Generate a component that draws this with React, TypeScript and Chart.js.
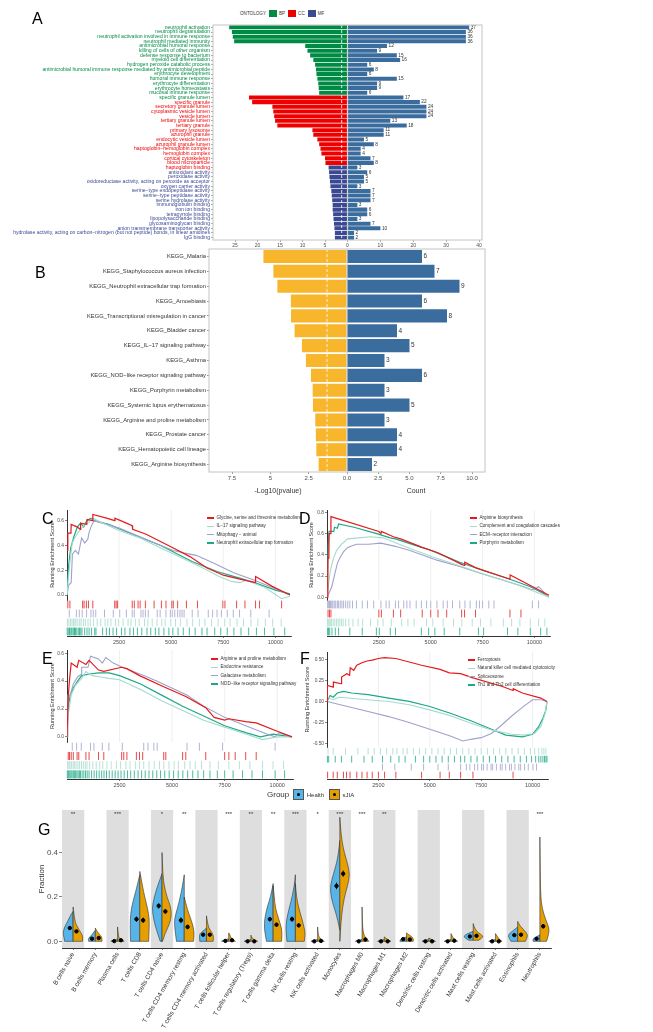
import React, { useEffect, useRef } from "react";
import { Chart, registerables } from "chart.js";
Chart.register(...registerables);

const FONT = "'Liberation Sans', Arial, Helvetica, sans-serif";
Chart.defaults.font.family = FONT;

// ---------------- Panel A (GO) ----------------
const goTerms = [
  "neutrophil activation",
  "neutrophil degranulation",
  "neutrophil activation involved in immune response",
  "neutrophil mediated immunity",
  "antimicrobial humoral response",
  "killing of cells of other organism",
  "defense response to bacterium",
  "myeloid cell differentiation",
  "hydrogen peroxide catabolic process",
  "antimicrobial humoral immune response mediated by antimicrobial peptide",
  "erythrocyte development",
  "humoral immune response",
  "erythrocyte differentiation",
  "erythrocyte homeostasis",
  "mucosal immune response",
  "specific granule lumen",
  "specific granule",
  "secretory granule lumen",
  "cytoplasmic vesicle lumen",
  "vesicle lumen",
  "tertiary granule lumen",
  "tertiary granule",
  "primary lysosome",
  "azurophil granule",
  "endocytic vesicle lumen",
  "azurophil granule lumen",
  "haptoglobin\u2212hemoglobin complex",
  "hemoglobin complex",
  "cortical cytoskeleton",
  "blood microparticle",
  "haptoglobin binding",
  "antioxidant activity",
  "peroxidase activity",
  "oxidoreductase activity, acting on peroxide as acceptor",
  "oxygen carrier activity",
  "serine\u2212type endopeptidase activity",
  "serine\u2212type peptidase activity",
  "serine hydrolase activity",
  "immunoglobulin binding",
  "iron ion binding",
  "tetrapyrrole binding",
  "lipopolysaccharide binding",
  "glycosaminoglycan binding",
  "anion transmembrane transporter activity",
  "hydrolase activity, acting on carbon\u2212nitrogen (but not peptide) bonds, in linear amidines",
  "IgG binding",
];
const goBarOntology = [
  "BP","BP","BP","BP","BP","BP","BP","BP","BP","BP","BP","BP","BP","BP","BP",
  "CC","CC","CC","CC","CC","CC","CC","CC","CC","CC","CC","CC","CC","CC","CC",
  "MF","MF","MF","MF","MF","MF","MF","MF","MF","MF","MF","MF","MF","MF","MF","MF",
];
const goTextOntology = [
  "BP","BP","BP","BP","BP","BP","BP","BP","BP","BP","BP","BP","BP","BP","BP","BP",
  "CC","CC","CC","CC","CC","CC","CC","CC","CC","CC","CC","CC","CC","CC","CC",
  "MF","MF","MF","MF","MF","MF","MF","MF","MF","MF","MF","MF","MF","MF","MF",
];
const goLogP = [
  26.3, 25.7, 25.5, 25.2, 9.4, 8.9, 8.3, 7.6, 7.2, 7.0, 6.9, 6.7, 6.5, 6.4, 6.3,
  21.9, 21.2, 16.7, 16.5, 16.3, 16.1, 15.6, 7.8, 7.6, 6.7, 6.3, 6.0, 5.8, 5.0, 4.9,
  4.2, 4.1, 4.0, 3.9, 3.8, 3.6, 3.5, 3.4, 3.3, 3.3, 3.2, 3.1, 3.0, 2.9, 2.8, 2.8,
];
const goCount = [
  37, 36, 36, 36, 12, 9, 15, 16, 6, 8, 6, 15, 9, 9, 6,
  17, 22, 24, 24, 24, 13, 18, 11, 11, 5, 8, 4, 4, 7, 8,
  3, 6, 5, 5, 3, 7, 7, 7, 3, 6, 6, 3, 7, 10, 2, 2,
];
const goLeftTicks = [0, 5, 10, 15, 20, 25];
const goRightTicks = [10, 20, 30, 40];
const ontologyNames = ["BP", "CC", "MF"];
const ontologyColor: Record<string, string> = { BP: "#008B45", CC: "#EE0000", MF: "#3B4992" };
const countBlue = "#3A6C9E";

// ---------------- Panel B (KEGG) ----------------
const keggTerms = [
  "KEGG_Malaria",
  "KEGG_Staphylococcus aureus infection",
  "KEGG_Neutrophil extracellular trap formation",
  "KEGG_Amoebiasis",
  "KEGG_Transcriptional misregulation in cancer",
  "KEGG_Bladder cancer",
  "KEGG_IL\u221217 signaling pathway",
  "KEGG_Asthma",
  "KEGG_NOD\u2212like receptor signaling pathway",
  "KEGG_Porphyrin metabolism",
  "KEGG_Systemic lupus erythematosus",
  "KEGG_Arginine and proline metabolism",
  "KEGG_Prostate cancer",
  "KEGG_Hematopoietic cell lineage",
  "KEGG_Arginine biosynthesis",
];
const keggLogP = [5.45, 4.8, 4.54, 3.66, 3.65, 3.42, 2.94, 2.68, 2.35, 2.24, 2.22, 2.07, 2.03, 2.0, 1.85];
const keggCount = [6, 7, 9, 6, 8, 4, 5, 3, 6, 3, 5, 3, 4, 4, 2];
const keggLeftTicks = [0, 2.5, 5, 7.5];
const keggLeftTickLabels = ["0.0", "2.5", "5", "7.5"];
const keggRightTicks = [2.5, 5, 7.5, 10];
const keggRightTickLabels = ["2.5", "5.0", "7.5", "10.0"];
const keggYellow = "#F8B62D";
const pCutoff = 1.3;

// ---------------- Panels C-F (GSEA) ----------------
const gseaXTicks = [2500, 5000, 7500, 10000];
const RED = "#E41A1C", LIGHT = "#A5DBCC", LAV = "#9EA2CB", GREEN = "#1DA887";

const cNames = ["Glycine, serine and threonine metabolism", "IL\u221217 signaling pathway", "Mitophagy \u2212 animal", "Neutrophil extracellular trap formation"];
const cGlycine = [[0,0.36],[40,0.36],[40,0.5],[190,0.5],[200,0.57],[480,0.55],[640,0.53],[650,0.58],[950,0.57],[960,0.61],[1230,0.6],[1240,0.65],[1900,0.62],[2290,0.6],[2300,0.62],[2850,0.58],[3130,0.56],[3150,0.53],[3800,0.49],[5100,0.38],[5900,0.31],[6700,0.22],[7500,0.16],[8250,0.13],[9040,0.1],[9050,0.15],[9850,0.07],[10700,0.0]];
const cIL17 = [[0,0.0],[60,0.12],[150,0.28],[250,0.42],[400,0.47],[600,0.52],[800,0.56],[1000,0.58],[1250,0.62],[1600,0.59],[2500,0.52],[3500,0.46],[4500,0.38],[5500,0.3],[6500,0.22],[7300,0.15],[7900,0.11],[8300,0.1],[8600,0.12],[9500,0.06],[10300,-0.03],[10700,-0.01]];
const cMitophagy = [[0,0.0],[80,0.08],[200,0.1],[260,0.33],[400,0.36],[550,0.33],[700,0.46],[850,0.42],[1000,0.45],[1050,0.5],[1150,0.55],[1300,0.6],[1700,0.58],[2500,0.54],[3500,0.47],[4500,0.4],[5100,0.36],[5600,0.34],[6200,0.32],[7000,0.26],[8000,0.18],[9000,0.12],[10000,0.05],[10700,0.0]];
const cNET = [[0,0.05],[80,0.24],[180,0.38],[330,0.47],[500,0.55],[650,0.58],[800,0.55],[950,0.6],[1150,0.62],[1300,0.6],[2000,0.57],[3000,0.5],[4500,0.4],[6000,0.27],[7200,0.19],[8200,0.14],[9000,0.1],[10000,0.04],[10700,0.01]];
const cRugRed = [40, 140, 750, 820, 930, 1030, 1240, 2290, 2360, 2430, 3130, 3230, 3410, 3510, 3760, 4180, 4530, 4750, 5030, 5100, 5310, 5730, 6260, 7480, 7580, 8140, 8540, 9050, 9240, 10300];
const cRugLav = [110, 450, 590, 730, 940, 1150, 1260, 1380, 1800, 2220, 2530, 2850, 3130, 3230, 3550, 3650, 3760, 3900, 4330, 4470, 4750, 4960, 5050, 5170, 5310, 5420, 5520, 5620, 6010, 6290, 6780, 6990, 7200, 7410, 7690, 7980, 8280, 8820, 9700];
const cRugLight = [20, 90, 170, 240, 310, 380, 430, 520, 610, 680, 790, 880, 1010, 1120, 1270, 1450, 1620, 1830, 1960, 2110, 2330, 2480, 2690, 2930, 3070, 3280, 3460, 3720, 3880, 4090, 4320, 4550, 4710, 4980, 5210, 5440, 5760, 6030, 6350, 6620, 6940, 7250, 7570, 7830, 8160, 8470, 8830, 9160, 9520, 9870, 10280];
const cRugGreen = [10, 60, 120, 150, 210, 280, 330, 360, 410, 470, 540, 600, 660, 720, 850, 960, 1060, 1180, 1330, 1390, 1710, 1890, 2040, 2210, 2380, 2620, 2780, 3020, 3190, 3380, 3590, 3840, 4020, 4240, 4410, 4650, 4890, 5080, 5330, 5580, 5870, 6150, 6480, 6720, 7090, 7380, 7690, 8010, 8350, 8720, 9090, 9480, 9930, 10450];

const dNames = ["Arginine biosynthesis", "Complement and coagulation cascades", "ECM\u2212receptor interaction", "Porphyrin metabolism"];
const dArginineBio = [[0,0.0],[40,0.0],[40,0.37],[90,0.37],[100,0.6],[170,0.6],[190,0.76],[2500,0.62],[2600,0.6],[2620,0.62],[3200,0.57],[3550,0.55],[4590,0.47],[5350,0.42],[6490,0.31],[6630,0.3],[6640,0.33],[7160,0.28],[8820,0.17],[8830,0.21],[10700,0.02]];
const dComplement = [[0,0.0],[60,0.1],[160,0.25],[300,0.36],[460,0.44],[700,0.5],[1000,0.55],[1500,0.56],[2100,0.57],[2700,0.56],[3600,0.49],[5100,0.38],[6500,0.29],[7400,0.23],[8500,0.16],[9300,0.11],[10200,0.04],[10700,0.0]];
const dECM = [[0,0.0],[120,0.05],[230,0.1],[350,0.2],[500,0.32],[640,0.38],[800,0.43],[1000,0.47],[1420,0.5],[2000,0.5],[2600,0.51],[3300,0.48],[4000,0.44],[5300,0.35],[6400,0.29],[7500,0.22],[8500,0.16],[9500,0.1],[9900,0.07],[10200,0.1],[10700,0.0]];
const dPorphyrin = [[0,0.0],[30,0.0],[60,0.5],[100,0.62],[330,0.62],[360,0.66],[500,0.65],[560,0.69],[1300,0.66],[2400,0.6],[3050,0.56],[3300,0.55],[4550,0.47],[4900,0.45],[5650,0.39],[6400,0.33],[7550,0.25],[8700,0.18],[9800,0.1],[10600,0.02]];
const dRugLav = [30, 80, 120, 170, 230, 280, 350, 420, 500, 560, 640, 720, 800, 900, 1000, 1100, 1230, 1420, 1700, 1950, 2250, 2600, 2850, 3000, 3300, 3450, 3700, 3850, 4000, 4300, 4550, 4800, 5000, 5300, 5600, 5800, 6050, 6400, 6650, 6900, 7200, 7350, 7500, 7800, 8050, 9900, 10200];
const dRugRed = [50, 120, 190, 2500, 2620, 3200, 3550, 4590, 5000, 5350, 5770, 6490, 6630, 7160, 8820, 9350];
const dRugLight = [20, 60, 110, 160, 220, 300, 380, 460, 540, 620, 700, 780, 900, 1050, 1250, 1500, 1720, 2100, 2450, 2700, 3100, 3600, 3900, 4200, 4800, 5100, 5600, 6100, 6500, 7000, 7400, 7900, 8500, 8900, 9300, 9800, 10200, 10500];
const dRugGreen = [30, 70, 130, 240, 400, 560, 1100, 1700, 2380, 2520, 3050, 3300, 4550, 4900, 5200, 5650, 6400, 7300, 7550, 8700, 9200, 9800, 10300, 10600];

const eNames = ["Arginine and proline metabolism", "Endocrine resistance", "Galactose metabolism", "NOD\u2212like receptor signaling pathway"];
const eArgPro = [[0,0.0],[60,0.29],[120,0.41],[200,0.53],[480,0.5],[560,0.55],[900,0.52],[1050,0.55],[1500,0.48],[1750,0.47],[2600,0.5],[2850,0.49],[3450,0.44],[4600,0.36],[5650,0.29],[6600,0.21],[7000,0.14],[7500,0.12],[7700,0.13],[8500,0.11],[9000,0.1],[10000,0.04],[10700,0.0]];
const eEndocrine = [[0,0.0],[50,0.15],[200,0.3],[400,0.37],[700,0.42],[900,0.47],[1200,0.44],[1600,0.43],[2000,0.42],[2500,0.41],[3500,0.34],[4500,0.26],[5500,0.19],[6500,0.12],[7500,0.07],[8500,0.02],[9300,-0.02],[10000,0.0],[10700,0.0]];
const eGalactose = [[0,0.0],[40,0.3],[150,0.3],[300,0.38],[500,0.43],[680,0.45],[700,0.5],[1000,0.5],[1120,0.58],[1500,0.56],[1680,0.53],[1850,0.57],[2200,0.53],[2630,0.5],[3650,0.44],[4290,0.4],[5700,0.3],[6500,0.22],[7500,0.14],[8500,0.08],[9500,0.02],[9900,0.0],[10100,0.03],[10700,0.0]];
const eNOD = [[0,0.0],[50,0.2],[150,0.3],[300,0.35],[500,0.4],[700,0.44],[1000,0.45],[1500,0.46],[2000,0.46],[2500,0.44],[3500,0.38],[4500,0.3],[5500,0.22],[6500,0.15],[7500,0.08],[8500,0.03],[9200,0.0],[9800,0.02],[10700,0.0]];
const eRugLav = [250, 460, 680, 1120, 1280, 1680, 1990, 2630, 3650, 3850, 4130, 4290, 5710, 6300, 7400, 9900];
const eRugRed = [60, 120, 200, 300, 480, 560, 900, 1050, 1500, 1750, 2600, 2700, 2850, 3300, 3450, 3600, 4600, 4700, 5500, 5650, 6600, 7500, 7700, 8000, 8500, 9000];
const eRugLight = [30, 90, 140, 210, 290, 350, 430, 520, 600, 690, 780, 870, 950, 1080, 1230, 1390, 1560, 1700, 1900, 2100, 2350, 2550, 2800, 3000, 3250, 3450, 3650, 3900, 4150, 4400, 4600, 4850, 5100, 5300, 5600, 5850, 6100, 6400, 6800, 7200, 7700, 8200, 8700, 9300, 9800, 10300];
const eRugGreen = [15, 55, 95, 140, 190, 240, 300, 350, 410, 470, 530, 590, 640, 720, 800, 880, 960, 1050, 1170, 1290, 1410, 1530, 1650, 1760, 1880, 2010, 2150, 2290, 2430, 2570, 2720, 2880, 3030, 3200, 3380, 3550, 3720, 3900, 4080, 4270, 4450, 4650, 4860, 5070, 5290, 5510, 5740, 5980, 6230, 6500, 6800, 7150, 7500, 7900, 8350, 8800, 9300, 9900, 10350];

const fNames = ["Ferroptosis", "Natural killer cell mediated cytotoxicity", "Spliceosome", "Th1 and Th2 cell differentiation"];
const fFerroptosis = [[0,0.0],[20,0.19],[300,0.17],[310,0.23],[700,0.21],[710,0.29],[960,0.33],[1100,0.31],[1130,0.4],[1300,0.37],[1450,0.43],[1700,0.46],[1950,0.48],[2200,0.49],[2500,0.51],[2800,0.52],[3350,0.51],[4600,0.43],[5500,0.38],[5950,0.34],[6500,0.33],[7100,0.28],[8500,0.18],[9050,0.13],[9060,0.15],[9500,0.1],[10400,0.04],[10700,0.0]];
const fNKcyto = [[0,0.05],[300,0.02],[600,0.05],[1000,0.04],[2000,0.02],[3000,0.0],[4000,-0.04],[5000,-0.1],[6000,-0.17],[7000,-0.26],[8000,-0.34],[9000,-0.39],[9600,-0.4],[10100,-0.38],[10400,-0.3],[10600,-0.15],[10700,0.0]];
const fSpliceosome = [[0,0.0],[1000,-0.06],[2000,-0.12],[3000,-0.18],[4000,-0.25],[5000,-0.33],[6000,-0.41],[6600,-0.47],[7000,-0.45],[7500,-0.43],[8000,-0.38],[8500,-0.28],[9000,-0.17],[9500,-0.07],[10000,0.02],[10400,0.02],[10700,0.0]];
const fTh1Th2 = [[0,0.0],[150,0.07],[300,0.05],[500,0.1],[800,0.12],[1200,0.1],[2000,0.08],[3000,0.04],[4000,0.0],[5000,-0.06],[6000,-0.14],[7000,-0.23],[8000,-0.33],[8700,-0.4],[9500,-0.42],[10000,-0.39],[10300,-0.3],[10500,-0.2],[10650,-0.1],[10700,0.0]];
const fRugLight = [50, 300, 900, 1500, 2000, 2300, 2600, 2900, 3200, 3400, 3700, 3900, 4200, 4500, 4800, 5100, 5400, 5700, 6000, 6300, 6600, 6900, 7200, 7500, 7800, 8100, 8400, 8700, 9000, 9300, 9600, 9900, 10100, 10300, 10450, 10550, 10650];
const fRugGreen = [20, 80, 400, 700, 1200, 1800, 2200, 2700, 3100, 3500, 3800, 4300, 4700, 5000, 5300, 5600, 5900, 6200, 6500, 6700, 7000, 7300, 7600, 7900, 8200, 8500, 8800, 9100, 9400, 9700, 9950, 10150, 10300, 10400, 10500, 10580, 10650, 10700];
const fRugLav = [2700, 3300, 4100, 4700, 5400, 5900, 6500, 6780, 6950, 7180, 7330, 7520, 7610, 7790, 7980, 8060, 8240, 8430, 8520, 8690, 8880, 8970, 9140, 9330, 9420, 9610, 9790, 10020, 10190];
const fRugRed = [30, 300, 500, 800, 950, 1120, 1450, 1700, 1950, 2200, 2500, 2800, 3350, 4600, 5500, 5950, 6500, 7100, 9050];

// ---------------- Panel G (immune infiltration) ----------------
const cellTypes = [
  "B cells naive", "B cells memory", "Plasma cells", "T cells CD8", "T cells CD4 naive",
  "T cells CD4 memory resting", "T cells CD4 memory activated", "T cells follicular helper",
  "T cells regulatory (Tregs)", "T cells gamma delta", "NK cells resting", "NK cells activated",
  "Monocytes", "Macrophages M0", "Macrophages M1", "Macrophages M2", "Dendritic cells resting",
  "Dendritic cells activated", "Mast cells resting", "Mast cells activated", "Eosinophils", "Neutrophils",
];
const sigStars = ["**", "", "***", "", "*", "**", "", "***", "**", "**", "***", "*", "***", "***", "**", "", "", "", "", "", "", "***"];
const healthMean = [0.06, 0.012, 0.001, 0.1, 0.16, 0.095, 0.03, 0.002, 0.0, 0.1, 0.1, 0.0, 0.25, 0.0, 0.0, 0.01, 0.0, 0.0, 0.022, 0.0, 0.028, 0.012];
const sjiaMean = [0.045, 0.015, 0.005, 0.095, 0.135, 0.065, 0.03, 0.005, 0.0, 0.075, 0.072, 0.002, 0.305, 0.008, 0.0, 0.008, 0.0, 0.003, 0.025, 0.0, 0.03, 0.068];
const healthErr = [0.008, 0.004, 0.002, 0.012, 0.012, 0.013, 0.004, 0.002, 0.001, 0.01, 0.012, 0.002, 0.015, 0.002, 0.001, 0.002, 0.001, 0.001, 0.004, 0.001, 0.005, 0.004];
const sjiaErr = [0.007, 0.004, 0.003, 0.012, 0.011, 0.01, 0.004, 0.002, 0.001, 0.009, 0.009, 0.002, 0.014, 0.004, 0.001, 0.002, 0.001, 0.002, 0.004, 0.001, 0.005, 0.01];
const healthProfiles = [
  [[0,0.38],[0.02,0.42],[0.04,0.45],[0.06,0.4],[0.08,0.3],[0.1,0.2],[0.12,0.1],[0.135,0]],
  [[0,0.3],[0.01,0.33],[0.02,0.25],[0.03,0.15],[0.04,0.08],[0.05,0]],
  [[0,0.3],[0.003,0.3],[0.008,0.05],[0.012,0]],
  [[0,0.42],[0.05,0.43],[0.1,0.43],[0.15,0.38],[0.2,0.25],[0.25,0.12],[0.3,0]],
  [[0,0.08],[0.05,0.25],[0.1,0.38],[0.15,0.45],[0.2,0.35],[0.25,0.2],[0.305,0]],
  [[0,0.35],[0.05,0.42],[0.1,0.45],[0.15,0.3],[0.2,0.18],[0.25,0.08],[0.3,0]],
  [[0,0.3],[0.02,0.32],[0.035,0.3],[0.05,0.12],[0.06,0]],
  [[0,0.32],[0.004,0.3],[0.01,0.05],[0.012,0]],
  [[0,0.3],[0.004,0.25],[0.008,0]],
  [[0,0.3],[0.04,0.38],[0.08,0.4],[0.12,0.35],[0.16,0.25],[0.2,0.12],[0.26,0]],
  [[0,0.38],[0.04,0.42],[0.08,0.42],[0.12,0.35],[0.16,0.25],[0.2,0.15],[0.25,0.05],[0.3,0]],
  [[0,0.3],[0.004,0.25],[0.008,0]],
  [[0.05,0],[0.1,0.1],[0.15,0.25],[0.2,0.4],[0.25,0.43],[0.3,0.3],[0.35,0.15],[0.4,0.06],[0.455,0]],
  [[0,0.3],[0.004,0.28],[0.008,0]],
  [[0,0.3],[0.004,0.25],[0.008,0]],
  [[0,0.3],[0.01,0.3],[0.02,0]],
  [[0,0.3],[0.004,0.25],[0.008,0]],
  [[0,0.3],[0.004,0.25],[0.008,0]],
  [[0.005,0.2],[0.015,0.38],[0.025,0.42],[0.035,0.25],[0.045,0]],
  [[0,0.3],[0.004,0.25],[0.008,0]],
  [[0,0.3],[0.015,0.4],[0.03,0.42],[0.045,0.25],[0.065,0]],
  [[0,0.3],[0.01,0.35],[0.02,0.15],[0.03,0]],
];
const sjiaProfiles = [
  [[0,0.42],[0.02,0.45],[0.04,0.35],[0.06,0.22],[0.08,0.12],[0.1,0.07],[0.13,0.03],[0.155,0]],
  [[0,0.3],[0.01,0.3],[0.02,0.28],[0.03,0.2],[0.045,0.08],[0.06,0]],
  [[0,0.3],[0.005,0.28],[0.01,0.08],[0.03,0.03],[0.065,0]],
  [[0,0.4],[0.05,0.42],[0.1,0.43],[0.15,0.35],[0.2,0.22],[0.25,0.12],[0.29,0.05],[0.315,0]],
  [[0,0.02],[0.04,0.15],[0.08,0.35],[0.12,0.43],[0.16,0.38],[0.2,0.22],[0.25,0.1],[0.3,0.04],[0.35,0.02],[0.4,0]],
  [[0,0.42],[0.03,0.45],[0.06,0.42],[0.1,0.3],[0.14,0.15],[0.2,0]],
  [[0,0.3],[0.02,0.33],[0.04,0.25],[0.06,0.1],[0.09,0.04],[0.115,0]],
  [[0,0.3],[0.005,0.25],[0.015,0.1],[0.03,0.05],[0.038,0]],
  [[0,0.3],[0.005,0.2],[0.015,0.04],[0.028,0]],
  [[0,0.38],[0.03,0.4],[0.06,0.38],[0.1,0.25],[0.15,0.1],[0.2,0.05],[0.25,0]],
  [[0,0.4],[0.03,0.45],[0.06,0.4],[0.1,0.3],[0.15,0.15],[0.2,0.05],[0.26,0]],
  [[0,0.3],[0.005,0.22],[0.02,0.03],[0.065,0]],
  [[0,0],[0.1,0.05],[0.2,0.2],[0.25,0.35],[0.3,0.45],[0.35,0.35],[0.4,0.2],[0.45,0.1],[0.5,0.04],[0.56,0]],
  [[0,0.3],[0.01,0.25],[0.03,0.03],[0.155,0]],
  [[0,0.3],[0.005,0.2],[0.02,0]],
  [[0,0.3],[0.01,0.32],[0.02,0.25],[0.03,0.1],[0.038,0]],
  [[0,0.3],[0.005,0.2],[0.015,0]],
  [[0,0.3],[0.005,0.15],[0.035,0]],
  [[0.005,0.25],[0.015,0.4],[0.025,0.45],[0.04,0.2],[0.06,0.06],[0.08,0]],
  [[0,0.3],[0.005,0.2],[0.035,0]],
  [[0,0.35],[0.015,0.42],[0.03,0.45],[0.05,0.3],[0.07,0.1],[0.09,0]],
  [[0,0.3],[0.03,0.4],[0.06,0.42],[0.1,0.25],[0.15,0.1],[0.2,0.04],[0.28,0.02],[0.47,0]],
];
const fracTicks = [0, 0.2, 0.4];
const fracTickLabels = ["0.0", "0.2", "0.4"];
const HEALTH = "#56B4E9", SJIA = "#E69F00";

// ---------------- helpers ----------------
function divergingPlugin(counts: number[], cutoff: number, labelSize: number) {
  return {
    id: "diverging",
    afterDatasetsDraw(chart: any) {
      const { ctx, chartArea } = chart;
      const xl = chart.scales.xL;
      ctx.save();
      const cx = xl.getPixelForValue(cutoff);
      ctx.strokeStyle = "#FFFFFF";
      ctx.lineWidth = 0.8;
      ctx.setLineDash([3, 2]);
      ctx.beginPath();
      ctx.moveTo(cx, chartArea.top);
      ctx.lineTo(cx, chartArea.bottom);
      ctx.stroke();
      ctx.setLineDash([]);
      const zx = xl.getPixelForValue(0);
      ctx.strokeStyle = "#D6D6D6";
      ctx.lineWidth = 1.2;
      ctx.beginPath();
      ctx.moveTo(zx, chartArea.top);
      ctx.lineTo(zx, chartArea.bottom);
      ctx.stroke();
      const meta = chart.getDatasetMeta(1);
      ctx.fillStyle = "#333333";
      ctx.font = `${labelSize}px ${FONT}`;
      ctx.textBaseline = "middle";
      ctx.textAlign = "left";
      meta.data.forEach((bar: any, i: number) => ctx.fillText(String(counts[i]), bar.x + 1.5, bar.y));
      ctx.strokeStyle = "#C4C4C4";
      ctx.lineWidth = 1;
      ctx.strokeRect(chartArea.left, chartArea.top, chartArea.width, chartArea.height);
      ctx.restore();
    },
  };
}

function makeGo() {
  const tickGrid = { display: true, drawOnChartArea: false, tickLength: 2, color: "#555", lineWidth: 0.5 };
  return {
    type: "bar",
    data: {
      labels: goTerms,
      datasets: [
        { data: goLogP, xAxisID: "xL", yAxisID: "y", backgroundColor: goBarOntology.map((o) => ontologyColor[o]), borderWidth: 0, barPercentage: 1, categoryPercentage: 0.86, grouped: false },
        { data: goCount, xAxisID: "xR", yAxisID: "y", backgroundColor: countBlue, borderWidth: 0, barPercentage: 1, categoryPercentage: 0.86, grouped: false },
      ],
    },
    options: {
      indexAxis: "y",
      animation: false,
      responsive: false,
      devicePixelRatio: 1,
      layout: { padding: { top: 5, right: 8, left: 0, bottom: 0 } },
      plugins: { legend: { display: false }, tooltip: { enabled: false } },
      scales: {
        y: {
          type: "category",
          position: "left",
          afterFit: (s: any) => { s.width = 213; },
          ticks: { autoSkip: false, font: { size: 5.1 }, color: (c: any) => ontologyColor[goTextOntology[c.index]], padding: 1 },
          grid: { ...tickGrid, offset: false },
          border: { display: false },
        },
        xL: {
          type: "linear", position: "bottom", stack: "go", stackWeight: 1, reverse: true, min: 0, max: 29.9,
          afterBuildTicks: (s: any) => { s.ticks = goLeftTicks.map((v) => ({ value: v })); },
          ticks: { font: { size: 5 }, color: "#4D4D4D", padding: 1, maxRotation: 0, autoSkip: false, callback: (v: any) => String(v) },
          grid: tickGrid, border: { display: false },
          afterFit: (s: any) => { s.height = 15; },
        },
        xR: {
          type: "linear", position: "bottom", stack: "go", stackWeight: 1, min: 0, max: 40.9,
          afterBuildTicks: (s: any) => { s.ticks = goRightTicks.map((v) => ({ value: v })); },
          ticks: { font: { size: 5 }, color: "#4D4D4D", padding: 1, maxRotation: 0, autoSkip: false, callback: (v: any) => String(v) },
          grid: tickGrid, border: { display: false },
          afterFit: (s: any) => { s.height = 15; },
        },
      },
    },
    plugins: [divergingPlugin(goCount, pCutoff, 4.8)],
  };
}

function makeKegg() {
  const tickGrid = { display: true, drawOnChartArea: false, tickLength: 2, color: "#555", lineWidth: 0.6 };
  return {
    type: "bar",
    data: {
      labels: keggTerms,
      datasets: [
        { data: keggLogP, xAxisID: "xL", yAxisID: "y", backgroundColor: keggYellow, borderWidth: 0, barPercentage: 1, categoryPercentage: 0.88, grouped: false },
        { data: keggCount, xAxisID: "xR", yAxisID: "y", backgroundColor: countBlue, borderWidth: 0, barPercentage: 1, categoryPercentage: 0.88, grouped: false },
      ],
    },
    options: {
      indexAxis: "y",
      animation: false,
      responsive: false,
      devicePixelRatio: 1,
      layout: { padding: { top: 9, right: 10, left: 0, bottom: 0 } },
      plugins: { legend: { display: false }, tooltip: { enabled: false } },
      scales: {
        y: {
          type: "category", position: "left",
          afterFit: (s: any) => { s.width = 209; },
          ticks: { autoSkip: false, font: { size: 5.8 }, color: "#333333", padding: 1 },
          grid: { ...tickGrid, offset: false },
          border: { display: false },
        },
        xL: {
          type: "linear", position: "bottom", stack: "kg", stackWeight: 1, reverse: true, min: 0, max: 9.0,
          afterBuildTicks: (s: any) => { s.ticks = keggLeftTicks.map((v) => ({ value: v })); },
          ticks: { font: { size: 6 }, color: "#4D4D4D", padding: 1, maxRotation: 0, autoSkip: false, callback: (_v: any, i: number) => keggLeftTickLabels[i] },
          title: { display: true, text: "-Log10(pvalue)", font: { size: 7 }, color: "#333", padding: { top: 0, bottom: 0 } },
          grid: tickGrid, border: { display: false },
          afterFit: (s: any) => { s.height = 23; },
        },
        xR: {
          type: "linear", position: "bottom", stack: "kg", stackWeight: 1, min: 0, max: 11.04,
          afterBuildTicks: (s: any) => { s.ticks = keggRightTicks.map((v) => ({ value: v })); },
          ticks: { font: { size: 6 }, color: "#4D4D4D", padding: 1, maxRotation: 0, autoSkip: false, callback: (_v: any, i: number) => keggRightTickLabels[i] },
          title: { display: true, text: "Count", font: { size: 7 }, color: "#333", padding: { top: 0, bottom: 0 } },
          grid: tickGrid, border: { display: false },
          afterFit: (s: any) => { s.height = 23; },
        },
      },
    },
    plugins: [divergingPlugin(keggCount, pCutoff, 6.5)],
  };
}

function gseaPlugin(rug: { color: string; hits: number[] }[]) {
  return {
    id: "gseaDecor",
    beforeDatasetsDraw(chart: any) {
      const { ctx } = chart;
      const xs = chart.scales.x, ys = chart.scales.y;
      ctx.save();
      ctx.strokeStyle = "#E8E8E8";
      ctx.lineWidth = 0.7;
      gseaXTicks.forEach((v) => {
        const x = xs.getPixelForValue(v);
        ctx.beginPath();
        ctx.moveTo(x, ys.top);
        ctx.lineTo(x, ys.bottom);
        ctx.stroke();
      });
      ctx.restore();
    },
    afterDatasetsDraw(chart: any) {
      const { ctx } = chart;
      const xs = chart.scales.x, yr = chart.scales.yr;
      ctx.save();
      ctx.lineWidth = 0.8;
      rug.forEach((row, r) => {
        const y0 = yr.getPixelForValue(r) + 0.6, y1 = yr.getPixelForValue(r + 1) - 0.6;
        ctx.strokeStyle = row.color;
        row.hits.forEach((h) => {
          const x = xs.getPixelForValue(h);
          ctx.beginPath();
          ctx.moveTo(x, y0);
          ctx.lineTo(x, y1);
          ctx.stroke();
        });
      });
      ctx.restore();
    },
  };
}

function makeGsea(p: any) {
  return () => ({
    type: "line",
    data: {
      datasets: p.series.map((s: any) => ({
        data: s.pts.map((q: number[]) => ({ x: q[0], y: q[1] })),
        borderColor: s.color, borderWidth: s.w, pointRadius: 0, fill: false, tension: 0, yAxisID: "y",
      })),
    },
    options: {
      animation: false, responsive: false, devicePixelRatio: 1,
      layout: { padding: { top: p.padTop, right: p.padRight, left: 0, bottom: 0 } },
      plugins: { legend: { display: false }, tooltip: { enabled: false } },
      scales: {
        x: {
          type: "linear", min: 0, max: p.xMax,
          afterBuildTicks: (s: any) => { s.ticks = gseaXTicks.map((v) => ({ value: v })); },
          ticks: { font: { size: 5.5 }, color: "#4D4D4D", padding: 1, maxRotation: 0, autoSkip: false, callback: (v: any) => String(v) },
          grid: { display: true, drawOnChartArea: false, tickLength: 2, color: "#333", lineWidth: 0.6 },
          border: { display: true, color: "#333", width: 1 },
          afterFit: (s: any) => { s.height = p.xHeight; },
        },
        y: {
          type: "linear", stack: "g", stackWeight: p.esWeight, weight: 2, min: p.yMin, max: p.yMax,
          afterBuildTicks: (s: any) => { s.ticks = p.yTicks.map((v: number) => ({ value: v })); },
          ticks: { font: { size: 4.8 }, color: "#4D4D4D", padding: 1, callback: (_v: any, i: number) => p.yLabels[i] },
          title: { display: true, text: "Running Enrichment Score", font: { size: 5.5 }, color: "#333", padding: { top: 0, bottom: 1 } },
          grid: { display: true, drawOnChartArea: false, tickLength: 2, color: "#333", lineWidth: 0.6 },
          border: { display: true, color: "#333", width: 1 },
          afterFit: (s: any) => { s.width = p.yWidth; },
        },
        yr: { type: "linear", stack: "g", stackWeight: 1, weight: 1, min: 0, max: 4, reverse: true, display: false },
      },
    },
    plugins: [gseaPlugin(p.rug)],
  });
}

const violinPlugin = {
  id: "violins",
  beforeDatasetsDraw(chart: any) {
    const { ctx, chartArea } = chart;
    const xs = chart.scales.x, ys = chart.scales.y;
    ctx.save();
    ctx.fillStyle = "#DEDEDE";
    cellTypes.forEach((_, i) => {
      if (i % 2 === 0) {
        const x0 = xs.getPixelForValue(i - 0.5), x1 = xs.getPixelForValue(i + 0.5);
        ctx.fillRect(x0, chartArea.top, x1 - x0, chartArea.height);
      }
    });
    const drawHalf = (i: number, prof: number[][], side: number, color: string) => {
      const pts = prof.map(([v, w]) => [xs.getPixelForValue(i + side * w), ys.getPixelForValue(v)]);
      const cx = xs.getPixelForValue(i);
      ctx.beginPath();
      ctx.moveTo(cx, pts[0][1]);
      ctx.lineTo(pts[0][0], pts[0][1]);
      for (let k = 1; k < pts.length - 1; k++) {
        const mx = (pts[k][0] + pts[k + 1][0]) / 2, my = (pts[k][1] + pts[k + 1][1]) / 2;
        ctx.quadraticCurveTo(pts[k][0], pts[k][1], mx, my);
      }
      const last = pts[pts.length - 1];
      ctx.lineTo(last[0], last[1]);
      ctx.lineTo(cx, last[1]);
      ctx.closePath();
      ctx.fillStyle = color;
      ctx.fill();
      ctx.strokeStyle = "#333";
      ctx.lineWidth = 0.6;
      ctx.stroke();
    };
    cellTypes.forEach((_, i) => {
      drawHalf(i, healthProfiles[i], -1, HEALTH);
      drawHalf(i, sjiaProfiles[i], 1, SJIA);
    });
    ctx.strokeStyle = "#000";
    ctx.lineWidth = 0.9;
    cellTypes.forEach((_, i) => {
      [[i - 0.15, healthMean[i], healthErr[i]], [i + 0.15, sjiaMean[i], sjiaErr[i]]].forEach(([x, m, e]) => {
        const px = xs.getPixelForValue(x);
        ctx.beginPath();
        ctx.moveTo(px, ys.getPixelForValue(m - e));
        ctx.lineTo(px, ys.getPixelForValue(m + e));
        ctx.stroke();
      });
    });
    ctx.restore();
  },
  afterDatasetsDraw(chart: any) {
    const { ctx, chartArea } = chart;
    const xs = chart.scales.x;
    ctx.save();
    ctx.fillStyle = "#333";
    ctx.font = `6px ${FONT}`;
    ctx.textAlign = "center";
    ctx.textBaseline = "top";
    sigStars.forEach((s, i) => {
      if (s) ctx.fillText(s, xs.getPixelForValue(i), chartArea.top + 1);
    });
    ctx.restore();
  },
};

function makeViolin() {
  return {
    type: "scatter",
    data: {
      datasets: [
        { data: healthMean.map((m, i) => ({ x: i - 0.15, y: m })), backgroundColor: "#000", borderColor: "#000", pointRadius: 1.7 },
        { data: sjiaMean.map((m, i) => ({ x: i + 0.15, y: m })), backgroundColor: "#000", borderColor: "#000", pointRadius: 1.7 },
      ],
    },
    options: {
      animation: false, responsive: false, devicePixelRatio: 1,
      layout: { padding: { top: 10, right: 14, left: 0, bottom: 0 } },
      plugins: { legend: { display: false }, tooltip: { enabled: false } },
      scales: {
        x: {
          type: "linear", min: -0.5, max: 21.5,
          afterBuildTicks: (s: any) => { s.ticks = cellTypes.map((_, i) => ({ value: i })); },
          ticks: { autoSkip: false, minRotation: 60, maxRotation: 60, font: { size: 6.5 }, color: "#333", padding: 1, callback: (v: any) => cellTypes[v] },
          grid: { display: true, drawOnChartArea: false, tickLength: 2, color: "#333", lineWidth: 0.6 },
          border: { display: true, color: "#333", width: 1 },
          afterFit: (s: any) => { s.height = 84; },
        },
        y: {
          min: -0.03, max: 0.592,
          afterBuildTicks: (s: any) => { s.ticks = fracTicks.map((v) => ({ value: v })); },
          ticks: { font: { size: 8 }, color: "#4D4D4D", padding: 1, callback: (_v: any, i: number) => fracTickLabels[i] },
          title: { display: true, text: "Fraction", font: { size: 8 }, color: "#333", padding: { top: 0, bottom: 1 } },
          grid: { display: true, drawOnChartArea: false, tickLength: 3, color: "#333", lineWidth: 0.6 },
          border: { display: true, color: "#333", width: 1 },
          afterFit: (s: any) => { s.width = 25; },
        },
      },
    },
    plugins: [violinPlugin],
  };
}

// ---------------- components ----------------
function ChartBox({ left, top, width, height, make }: any) {
  const ref = useRef<HTMLCanvasElement>(null);
  useEffect(() => {
    const chart = new Chart(ref.current as HTMLCanvasElement, make());
    return () => chart.destroy();
  }, []);
  return <canvas ref={ref} width={width} height={height} style={{ position: "absolute", left, top, width, height }} />;
}

function SeriesLegend({ left, top, names, colors }: any) {
  return (
    <div style={{ position: "absolute", left, top }}>
      {names.map((n: string, i: number) => (
        <div key={i} style={{ position: "absolute", left: 0, top: i * 8.4, height: 6, display: "flex", alignItems: "center", whiteSpace: "nowrap" }}>
          <div style={{ width: 7, height: 1.4, background: colors[i], marginRight: 2.5 }} />
          <span style={{ fontSize: 4.6, color: "#333", lineHeight: "6px" }}>{n}</span>
        </div>
      ))}
    </div>
  );
}

function Letter({ ch, left, top }: any) {
  return <div style={{ position: "absolute", left, top, fontSize: 16, lineHeight: 1, color: "#000" }}>{ch}</div>;
}

const LEG_COLORS = [RED, LIGHT, LAV, GREEN];

export default function App() {
  const gC = makeGsea({
    series: [{ pts: cGlycine, color: RED, w: 1.2 }, { pts: cIL17, color: LIGHT, w: 1.1 }, { pts: cMitophagy, color: LAV, w: 1.1 }, { pts: cNET, color: GREEN, w: 1.2 }],
    rug: [{ color: RED, hits: cRugRed }, { color: LAV, hits: cRugLav }, { color: LIGHT, hits: cRugLight }, { color: GREEN, hits: cRugGreen }],
    yMin: -0.04, yMax: 0.686, yTicks: [0, 0.2, 0.4, 0.6], yLabels: ["0.0", "0.2", "0.4", "0.6"],
    xMax: 10750, padTop: 10, padRight: 9, xHeight: 14, yWidth: 18, esWeight: 2.5,
  });
  const gD = makeGsea({
    series: [{ pts: dArginineBio, color: RED, w: 1.2 }, { pts: dComplement, color: LIGHT, w: 1.1 }, { pts: dECM, color: LAV, w: 1.1 }, { pts: dPorphyrin, color: GREEN, w: 1.2 }],
    rug: [{ color: LAV, hits: dRugLav }, { color: RED, hits: dRugRed }, { color: LIGHT, hits: dRugLight }, { color: GREEN, hits: dRugGreen }],
    yMin: -0.025, yMax: 0.822, yTicks: [0, 0.2, 0.4, 0.6, 0.8], yLabels: ["0.0", "0.2", "0.4", "0.6", "0.8"],
    xMax: 10750, padTop: 10, padRight: 10, xHeight: 14, yWidth: 19, esWeight: 2.5,
  });
  const gE = makeGsea({
    series: [{ pts: eArgPro, color: RED, w: 1.2 }, { pts: eEndocrine, color: LIGHT, w: 1.1 }, { pts: eGalactose, color: LAV, w: 1.1 }, { pts: eNOD, color: GREEN, w: 1.2 }],
    rug: [{ color: LAV, hits: eRugLav }, { color: RED, hits: eRugRed }, { color: LIGHT, hits: eRugLight }, { color: GREEN, hits: eRugGreen }],
    yMin: -0.038, yMax: 0.624, yTicks: [0, 0.2, 0.4, 0.6], yLabels: ["0.0", "0.2", "0.4", "0.6"],
    xMax: 10750, padTop: 10, padRight: 7, xHeight: 15, yWidth: 18, esWeight: 2.5,
  });
  const gF = makeGsea({
    series: [{ pts: fFerroptosis, color: RED, w: 1.2 }, { pts: fNKcyto, color: LIGHT, w: 1.1 }, { pts: fSpliceosome, color: LAV, w: 1.1 }, { pts: fTh1Th2, color: GREEN, w: 1.2 }],
    rug: [{ color: LIGHT, hits: fRugLight }, { color: GREEN, hits: fRugGreen }, { color: LAV, hits: fRugLav }, { color: RED, hits: fRugRed }],
    yMin: -0.544, yMax: 0.587, yTicks: [-0.5, -0.25, 0, 0.25, 0.5], yLabels: ["-0.50", "-0.25", "0.00", "0.25", "0.50"],
    xMax: 10750, padTop: 12, padRight: 12, xHeight: 15, yWidth: 23, esWeight: 3,
  });

  return (
    <div style={{ position: "absolute", left: 0, top: 0, width: 653, height: 1032, background: "#fff", fontFamily: FONT, overflow: "hidden" }}>
      <ChartBox left={0} top={20} width={490} height={235} make={makeGo} />
      <ChartBox left={0} top={240} width={495} height={255} make={makeKegg} />
      <ChartBox left={49} top={500} width={251} height={150} make={gC} />
      <ChartBox left={308} top={500} width={252} height={150} make={gD} />
      <ChartBox left={49} top={640} width={251} height={154} make={gE} />
      <ChartBox left={304} top={640} width={256} height={154} make={gF} />
      <ChartBox left={37} top={800} width={528} height={232} make={makeViolin} />

      {/* ontology legend */}
      <div style={{ position: "absolute", left: 240, top: 9, height: 8, display: "flex", alignItems: "center", fontSize: 4.6, color: "#333", whiteSpace: "nowrap" }}>
        <span style={{ marginRight: 3 }}>ONTOLOGY</span>
        {ontologyNames.map((o) => (
          <React.Fragment key={o}>
            <span style={{ display: "inline-block", width: 8, height: 7, background: ontologyColor[o], marginRight: 2 }} />
            <span style={{ marginRight: 3 }}>{o}</span>
          </React.Fragment>
        ))}
      </div>

      <SeriesLegend left={207} top={515} names={cNames} colors={LEG_COLORS} />
      <SeriesLegend left={470} top={515} names={dNames} colors={LEG_COLORS} />
      <SeriesLegend left={211} top={656} names={eNames} colors={LEG_COLORS} />
      <SeriesLegend left={468} top={657} names={fNames} colors={LEG_COLORS} />

      {/* group legend */}
      <div style={{ position: "absolute", left: 267, top: 789, height: 11, display: "flex", alignItems: "center", whiteSpace: "nowrap", color: "#333" }}>
        <span style={{ fontSize: 8, marginRight: 4 }}>Group</span>
        {[["Health", HEALTH], ["sJIA", SJIA]].map(([n, c]) => (
          <React.Fragment key={n}>
            <span style={{ position: "relative", display: "inline-block", width: 8.5, height: 8.5, background: c, border: "0.5px solid #555", marginRight: 3 }}>
              <span style={{ position: "absolute", left: 3, top: 3, width: 2.6, height: 2.6, borderRadius: 2, background: "#000" }} />
            </span>
            <span style={{ fontSize: 6, marginRight: 5 }}>{n}</span>
          </React.Fragment>
        ))}
      </div>

      <Letter ch="A" left={32} top={11} />
      <Letter ch="B" left={35} top={265} />
      <Letter ch="C" left={42} top={511} />
      <Letter ch="D" left={299} top={511} />
      <Letter ch="E" left={42} top={651} />
      <Letter ch="F" left={300} top={651} />
      <Letter ch="G" left={38} top={822} />
    </div>
  );
}
